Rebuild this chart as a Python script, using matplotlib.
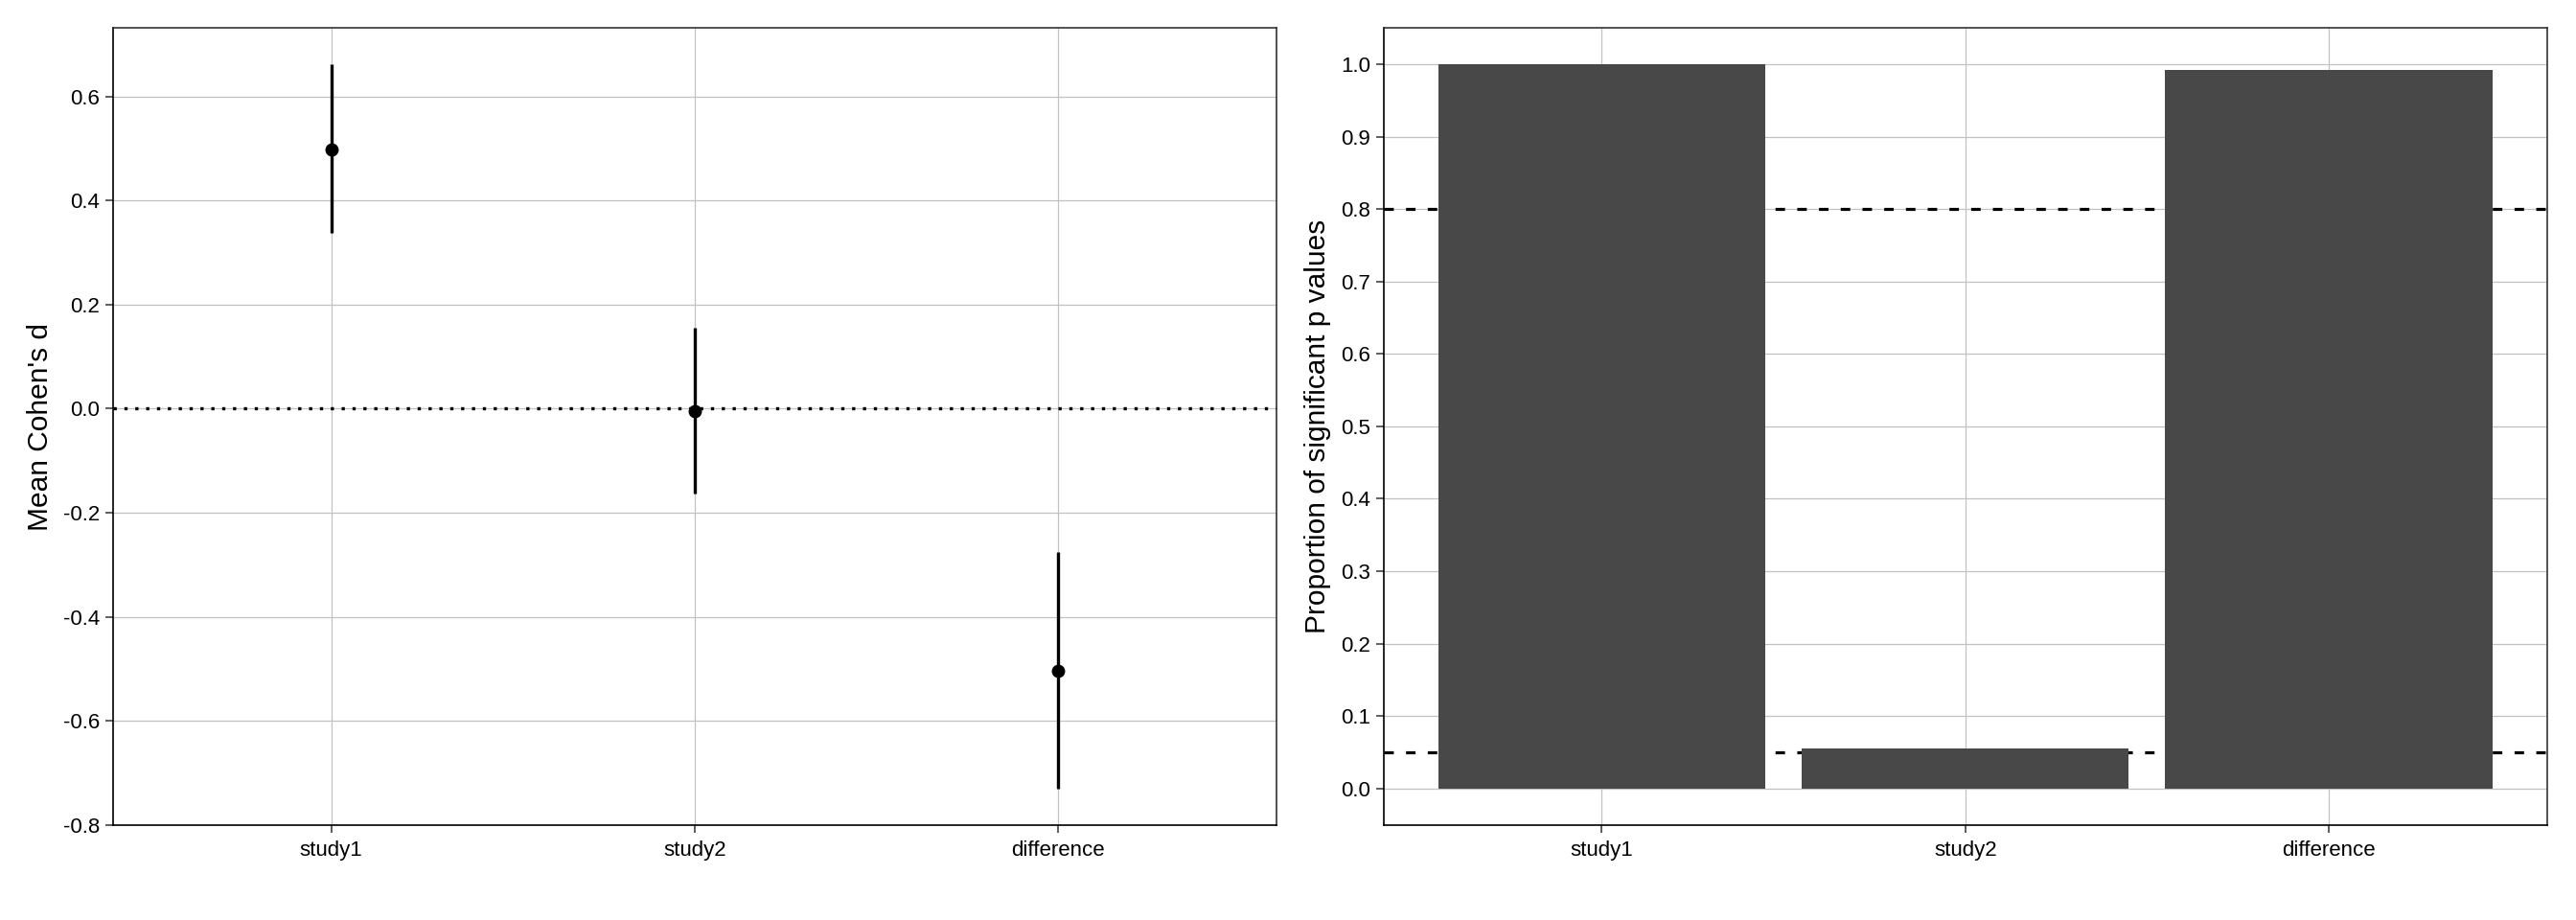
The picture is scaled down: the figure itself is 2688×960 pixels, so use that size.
import matplotlib
matplotlib.use("Agg")
import matplotlib.pyplot as plt

plt.rcParams['font.family'] = ['Liberation Sans', 'DejaVu Sans']

# data
categories = ["study1", "study2", "difference"]
mean_d = [0.499, -0.004, -0.504]
ci_low = [0.337, -0.164, -0.731]
ci_high = [0.662, 0.156, -0.275]

prop_sig = [1.0, 0.055, 0.992]
ref_lines = [0.05, 0.8]

left_ticks = [-0.8, -0.6, -0.4, -0.2, 0.0, 0.2, 0.4, 0.6]
right_ticks = [0.0, 0.1, 0.2, 0.3, 0.4, 0.5, 0.6, 0.7, 0.8, 0.9, 1.0]

GRID = "#c2c2c2"
TICK_FS = 16
TITLE_FS = 21.5

fig = plt.figure(figsize=(26.88, 9.6), dpi=100)
ax1 = fig.add_axes([118 / 2688, 1 - 860.7 / 960, 1214 / 2688, 831.4 / 960])
ax2 = fig.add_axes([1443.7 / 2688, 1 - 860.5 / 960, 1214 / 2688, 831.2 / 960])

x = [1, 2, 3]


def style(ax, ticks, fmt):
    ax.set_xlim(0.4, 3.6)
    ax.set_xticks(x)
    ax.set_xticklabels(categories)
    ax.set_yticks(ticks)
    ax.set_yticklabels([fmt.format(t) for t in ticks])
    ax.set_axisbelow(True)
    ax.grid(True, color=GRID, linewidth=0.9)
    ax.tick_params(axis="both", labelsize=TICK_FS, colors="#333333",
                   labelcolor="black", length=6, width=1.1)
    ax.tick_params(axis="x", pad=6)
    ax.tick_params(axis="y", pad=4)
    for side in ["top", "right"]:
        ax.spines[side].set_color("#333333")
        ax.spines[side].set_linewidth(1.2)
    for side in ["left", "bottom"]:
        ax.spines[side].set_color("black")
        ax.spines[side].set_linewidth(1.2)


# left panel: mean effect sizes with intervals
style(ax1, left_ticks, "{:.1f}")
ax1.set_ylim(-0.8, 0.7315)
ax1.axhline(0, color="black", linewidth=2.4, linestyle=(0, (1, 2.4)), zorder=2)
ax1.vlines(x, ci_low, ci_high, color="black", linewidth=2.4, zorder=3)
ax1.plot(x, mean_d, "o", color="black", markersize=9, zorder=4)
ax1.set_ylabel("Mean Cohen's d", fontsize=TITLE_FS, labelpad=7)

# right panel: proportion of significant p values
style(ax2, right_ticks, "{:.1f}")
ax2.set_ylim(-0.05, 1.05)
for r in ref_lines:
    ax2.axhline(r, color="black", linewidth=2.3, linestyle=(0, (3.1, 4)), zorder=2)
ax2.bar(x, prop_sig, width=0.9, color="#484848", zorder=3)
ax2.set_ylabel("Proportion of significant p values", fontsize=TITLE_FS, labelpad=7)

fig.savefig("out.png", dpi=100)
